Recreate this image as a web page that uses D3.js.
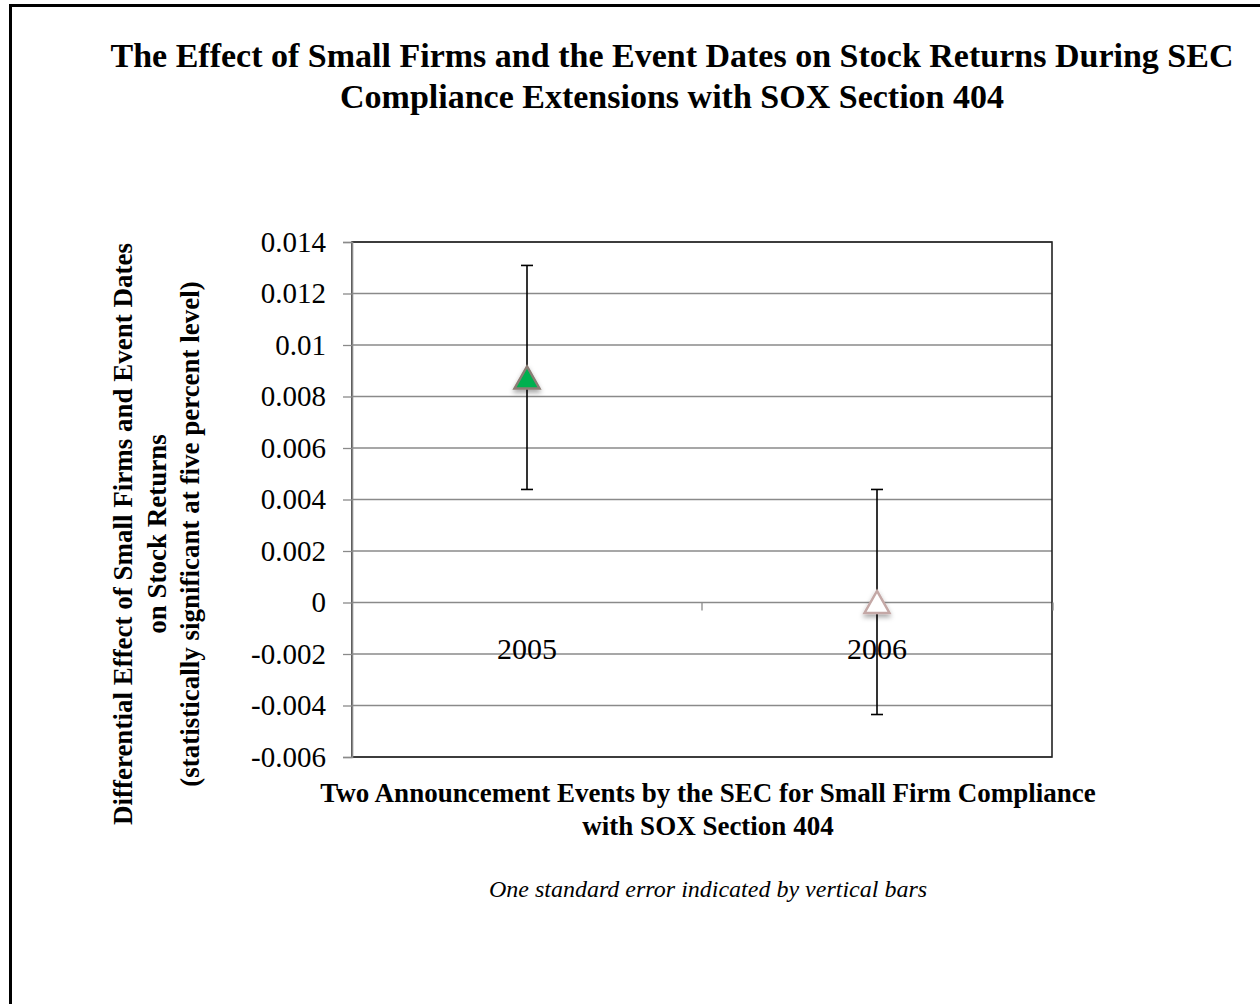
<!DOCTYPE html>
<html>
<head>
<meta charset="utf-8">
<script src="https://cdn.jsdelivr.net/npm/d3@7"></script>
<style>
  body { margin: 0; background: #fff; }
  svg text { font-family: "Liberation Serif", "Times New Roman", serif; fill: #000; }
  .grid-line { stroke: #8a8a8a; stroke-width: 1.3; }
</style>
</head>
<body>
<svg id="chart" width="1260" height="1004"></svg>
<script>
const categories = ['2005', '2006'];
const values = [0.00874, 0.00002];
const stdErrors = [0.00435, 0.00437];
const yTicks = [-0.006, -0.004, -0.002, 0, 0.002, 0.004, 0.006, 0.008, 0.01, 0.012, 0.014];
const markerFills = ['#00b050', '#ffffff'];
const markerStrokes = ['#8a7d74', '#c4a8a6'];

const titleLines = ['The Effect of Small Firms and the Event Dates on Stock Returns During SEC',
                    'Compliance Extensions with SOX Section 404'];
const yTitleLines = ['Differential Effect of Small Firms and Event Dates',
                     'on Stock Returns',
                     '(statistically significant at five percent level)'];
const xTitleLines = ['Two Announcement Events by the SEC for Small Firm Compliance',
                     'with SOX Section 404'];
const note = 'One standard error indicated by vertical bars';

const plot = {left: 352, right: 1052, top: 242, bottom: 757};

let svg = d3.select('#chart');

// page frame (left and top edges visible)
svg.append('line').attr('x1', 10.5).attr('y1', 5.5).attr('x2', 10.5).attr('y2', 1004)
    .attr('stroke', '#000').attr('stroke-width', 3);
svg.append('line').attr('x1', 9).attr('y1', 5.5).attr('x2', 1260).attr('y2', 5.5)
    .attr('stroke', '#000').attr('stroke-width', 3);

let y = d3.scaleLinear()
    .domain([-0.006, 0.014])
    .range([plot.bottom, plot.top]);

let x = d3.scaleBand()
    .domain(categories)
    .range([plot.left, plot.right]);

// horizontal grid lines
svg.append('g').selectAll('line')
    .data(yTicks)
    .join('line')
    .classed('grid-line', true)
    .attr('x1', plot.left)
    .attr('x2', plot.right)
    .attr('y1', d => y(d))
    .attr('y2', d => y(d));

// plot frame
svg.append('rect')
    .attr('x', plot.left).attr('y', plot.top)
    .attr('width', plot.right - plot.left).attr('height', plot.bottom - plot.top)
    .attr('fill', 'none').attr('stroke', '#222').attr('stroke-width', 1.6);

// y axis
let yAxis = d3.axisLeft(y)
    .tickValues(yTicks)
    .tickSize(9)
    .tickPadding(17)
    .tickFormat(d => d === 0 ? '0' : String(+d.toFixed(3)));

let yg = svg.append('g')
    .attr('class', 'y-axis')
    .attr('transform', `translate(${plot.left}, 0)`)
    .call(yAxis);
yg.select('.domain').attr('stroke', '#8a8a8a').attr('stroke-width', 1.6);
yg.selectAll('.tick line').attr('stroke', '#8a8a8a').attr('stroke-width', 1.3);
yg.selectAll('.tick text')
    .style('font-family', '"Liberation Serif", serif')
    .attr('font-size', 29)
    .attr('fill', '#000');

// x axis crossing at zero
let xAxis = d3.axisBottom(x).tickSize(0).tickPadding(35);
let xg = svg.append('g')
    .attr('class', 'x-axis')
    .attr('transform', `translate(0, ${y(0)})`)
    .call(xAxis);
xg.select('.domain').remove();
xg.selectAll('.tick text')
    .style('font-family', '"Liberation Serif", serif')
    .attr('font-size', 30)
    .attr('fill', '#000');
// category separator ticks
xg.selectAll('line.sep')
    .data(categories.slice(1).concat(['end']))
    .join('line')
    .attr('class', 'sep')
    .attr('x1', (d, i) => i < categories.length - 1 ? x(d) : plot.right + 1)
    .attr('x2', (d, i) => i < categories.length - 1 ? x(d) : plot.right + 1)
    .attr('y1', 0).attr('y2', 8)
    .attr('stroke', '#8a8a8a').attr('stroke-width', 1.3);

// shadow filter
let defs = svg.append('defs');
let f = defs.append('filter').attr('id', 'shadow').attr('x', '-50%').attr('y', '-50%')
    .attr('width', '200%').attr('height', '200%');
f.append('feDropShadow').attr('dx', 0).attr('dy', 3).attr('stdDeviation', 2.5)
    .attr('flood-color', '#000').attr('flood-opacity', 0.35);

// error bars
let points = categories.map((c, i) => ({c, v: values[i], se: stdErrors[i], i}));
let eb = svg.append('g').attr('class', 'error-bars');
eb.selectAll('line.v')
    .data(points)
    .join('line')
    .attr('class', 'v')
    .attr('x1', d => x(d.c) + x.bandwidth() / 2)
    .attr('x2', d => x(d.c) + x.bandwidth() / 2)
    .attr('y1', d => y(d.v + d.se))
    .attr('y2', d => y(d.v - d.se))
    .attr('stroke', '#000').attr('stroke-width', 1.6);
['top', 'bot'].forEach(k => {
    eb.selectAll('line.' + k)
        .data(points)
        .join('line')
        .attr('class', k)
        .attr('x1', d => x(d.c) + x.bandwidth() / 2 - 6)
        .attr('x2', d => x(d.c) + x.bandwidth() / 2 + 6)
        .attr('y1', d => y(k === 'top' ? d.v + d.se : d.v - d.se))
        .attr('y2', d => y(k === 'top' ? d.v + d.se : d.v - d.se))
        .attr('stroke', '#000').attr('stroke-width', 1.6);
});

// triangle markers, centred on their bounding box like the spreadsheet markers
const excelTriangle = {
    draw(ctx, size) {
        const w = Math.sqrt(size), h = w * 0.88;
        ctx.moveTo(0, -h / 2);
        ctx.lineTo(w / 2, h / 2);
        ctx.lineTo(-w / 2, h / 2);
        ctx.closePath();
    }
};
let tri = d3.symbol().type(excelTriangle).size(25 * 25);
svg.append('g').selectAll('path')
    .data(points)
    .join('path')
    .attr('d', tri)
    .attr('transform', d => `translate(${x(d.c) + x.bandwidth() / 2}, ${y(d.v)})`)
    .attr('fill', d => markerFills[d.i])
    .attr('stroke', d => markerStrokes[d.i])
    .attr('stroke-width', 2.5)
    .attr('stroke-linejoin', 'miter')
    .attr('filter', 'url(#shadow)');

// title
svg.append('text')
    .attr('x', 672).attr('y', 67)
    .attr('text-anchor', 'middle')
    .attr('font-size', 34).attr('font-weight', 'bold')
    .selectAll('tspan')
    .data(titleLines)
    .join('tspan')
    .attr('x', 672)
    .attr('dy', (d, i) => i === 0 ? 0 : 41)
    .text(d => d);

// y title
svg.append('text')
    .attr('transform', 'translate(132, 534) rotate(-90)')
    .attr('text-anchor', 'middle')
    .attr('font-size', 27).attr('font-weight', 'bold')
    .selectAll('tspan')
    .data(yTitleLines)
    .join('tspan')
    .attr('x', 0)
    .attr('dy', (d, i) => i === 0 ? 0 : 33.5)
    .text(d => d);

// x title
svg.append('text')
    .attr('x', 708).attr('y', 802)
    .attr('text-anchor', 'middle')
    .attr('font-size', 27).attr('font-weight', 'bold')
    .selectAll('tspan')
    .data(xTitleLines)
    .join('tspan')
    .attr('x', 708)
    .attr('dy', (d, i) => i === 0 ? 0 : 33)
    .text(d => d);

// note
svg.append('text')
    .attr('x', 708).attr('y', 897)
    .attr('text-anchor', 'middle')
    .attr('font-size', 24).attr('font-style', 'italic')
    .text(note);
</script>
</body>
</html>
